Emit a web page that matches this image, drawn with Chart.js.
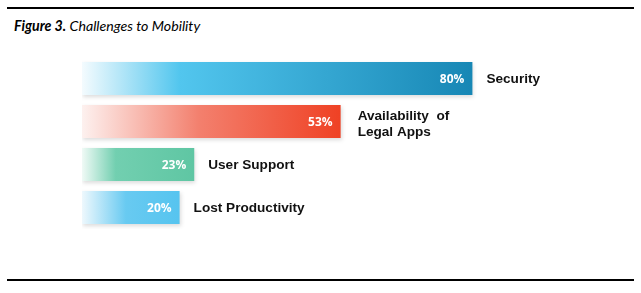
<!DOCTYPE html>
<html>
<head>
<meta charset="utf-8">
<script src="https://cdn.jsdelivr.net/npm/chart.js@4"></script>
<style>
  body { margin: 0; background: #fff; }
  #wrap { position: relative; width: 641px; height: 293px; }
  #myChart { position: absolute; left: 0; top: 0; }
  .rule { position: absolute; left: 7px; width: 627px; height: 2px; background: #000; }
  #title { position: absolute; left: 14px; top: 17px; font-family: Lato, 'Open Sans', sans-serif; font-size: 14.2px; font-style: italic; color: #000; }
</style>
</head>
<body>
<div id="wrap">
  <div class="rule" style="top:7px"></div>
  <div id="title"><b>Figure 3.</b> Challenges to Mobility</div>
  <canvas id="myChart" width="641" height="293"></canvas>
  <div class="rule" style="top:279px"></div>
</div>
<script>
// data
var categories = ['Security', ['Availability  of', 'Legal Apps'], 'User Support', 'Lost Productivity'];
var percentValues = [80, 53, 23, 20];

// gradient stops per bar (left fade -> right colour)
var barGradients = [
    [[0, '#f4fbfe'], [0.25, '#52c6ee'], [1, '#1787b5']],
    [[0, '#fdf1ef'], [0.45, '#f3806e'], [1, '#ef4124']],
    [[0, '#f0faf6'], [0.3, '#72cfb0'], [1, '#5fc6a3']],
    [[0, '#eef8fd'], [0.45, '#68caf1'], [1, '#56c4ef']]
];

function barFill(context) {
    var chart = context.chart;
    var area = chart.chartArea;
    if (!area) return '#ccc';
    var xScale = chart.scales.x;
    var end = xScale.getPixelForValue(percentValues[context.dataIndex]);
    var g = chart.ctx.createLinearGradient(area.left, 0, end, 0);
    barGradients[context.dataIndex].forEach(function (s) { g.addColorStop(s[0], s[1]); });
    return g;
}

var shadowPlugin = {
    id: 'barShadow',
    beforeDatasetsDraw: function (chart) {
        var ctx = chart.ctx;
        ctx.save();
        ctx.shadowColor = 'rgba(0,0,0,0.14)';
        ctx.shadowBlur = 4;
        ctx.shadowOffsetX = 1;
        ctx.shadowOffsetY = 2;
    },
    afterDatasetsDraw: function (chart) {
        chart.ctx.restore();
    }
};

var labelPlugin = {
    id: 'barLabels',
    afterDraw: function (chart) {
        var ctx = chart.ctx;
        var meta = chart.getDatasetMeta(0);
        ctx.save();
        meta.data.forEach(function (bar, i) {
            // value inside bar
            ctx.fillStyle = '#fff';
            ctx.font = 'bold 12px "Open Sans", sans-serif';
            ctx.textAlign = 'right';
            ctx.textBaseline = 'middle';
            ctx.fillText(percentValues[i] + '%', bar.x - 8, bar.y + 1);
            // category outside bar
            ctx.fillStyle = '#111';
            ctx.font = 'bold 13.6px "Liberation Sans", Arial, sans-serif';
            ctx.textAlign = 'left';
            var lines = Array.isArray(categories[i]) ? categories[i] : [categories[i]];
            var lh = 16;
            var multi = lines.length > 1;
            var y0 = bar.y - (lines.length - 1) * lh / 2 + (multi ? 3 : 1);
            lines.forEach(function (t, k) {
                ctx.fillText(t, bar.x + (multi ? 17 : 14), y0 + k * lh);
            });
        });
        ctx.restore();
    }
};

var ctx = document.getElementById('myChart').getContext('2d');
var myChart = new Chart(ctx, {
    type: 'bar',
    data: {
        labels: categories,
        datasets: [{
            data: percentValues,
            backgroundColor: barFill,
            borderWidth: 0,
            categoryPercentage: 0.77,
            barPercentage: 1
        }]
    },
    options: {
        indexAxis: 'y',
        responsive: false,
        animation: false,
        layout: { padding: { left: 82, right: 71, top: 57, bottom: 64 } },
        scales: {
            x: { display: false, min: 0, max: 100 },
            y: { display: false }
        },
        plugins: {
            legend: { display: false },
            tooltip: { enabled: false }
        }
    },
    plugins: [shadowPlugin, labelPlugin]
});
</script>
</body>
</html>
